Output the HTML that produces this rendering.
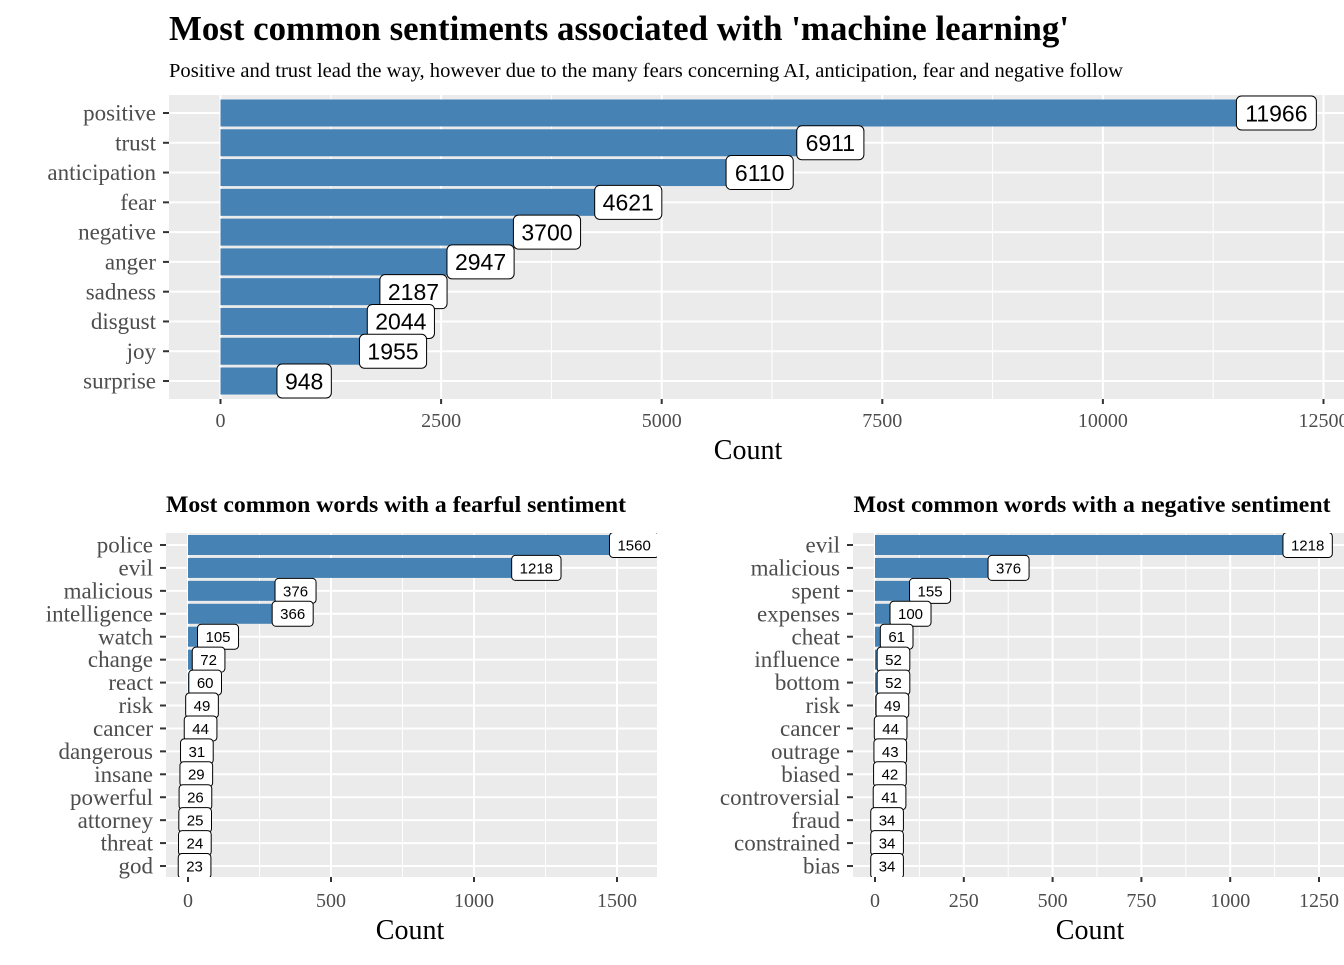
<!DOCTYPE html>
<html><head><meta charset="utf-8"><style>
body{margin:0;background:#fff;width:1344px;height:960px;overflow:hidden}
svg text{font-family:"Liberation Serif",serif}
</style></head><body>
<svg id="c" width="1344" height="960" xmlns="http://www.w3.org/2000/svg">
<text x="169" y="40" font-size="35" font-weight="bold" fill="#000" textLength="900" lengthAdjust="spacingAndGlyphs">Most common sentiments associated with 'machine learning'</text>
<text x="169" y="77" font-size="20.5" fill="#000" textLength="954" lengthAdjust="spacingAndGlyphs">Positive and trust lead the way, however due to the many fears concerning AI, anticipation, fear and negative follow</text>
<text x="396" y="512" font-size="23.5" font-weight="bold" text-anchor="middle" textLength="460" lengthAdjust="spacingAndGlyphs">Most common words with a fearful sentiment</text>
<text x="1092" y="512" font-size="23.5" font-weight="bold" text-anchor="middle" textLength="477" lengthAdjust="spacingAndGlyphs">Most common words with a negative sentiment</text>
</svg>
<script>
const topCats=["positive","trust","anticipation","fear","negative","anger","sadness","disgust","joy","surprise"];
const topVals=[11966,6911,6110,4621,3700,2947,2187,2044,1955,948];
const topTicks=[0,2500,5000,7500,10000,12500];
const fearCats=["police","evil","malicious","intelligence","watch","change","react","risk","cancer","dangerous","insane","powerful","attorney","threat","god"];
const fearVals=[1560,1218,376,366,105,72,60,49,44,31,29,26,25,24,23];
const fearTicks=[0,500,1000,1500];
const negCats=["evil","malicious","spent","expenses","cheat","influence","bottom","risk","cancer","outrage","biased","controversial","fraud","constrained","bias"];
const negVals=[1218,376,155,100,61,52,52,49,44,43,42,41,34,34,34];
const negTicks=[0,250,500,750,1000,1250];

const svg=document.getElementById('c');
const NS="http://www.w3.org/2000/svg";
function mk(tag,at,parent){const e=document.createElementNS(NS,tag);for(const k in at)e.setAttribute(k,at[k]);(parent||svg).appendChild(e);return e;}

function panel(o){
  const g=mk('g',{});
  
  
  const xs=v=>o.x0+v*o.k;
  const ys=i=>o.y0+i*o.dy;
  mk('rect',{x:o.px,y:o.py,width:o.pw,height:o.ph,fill:'#ebebeb'},g);
  const cp='clip'+o.name;
  const cl=mk('clipPath',{id:cp},g);mk('rect',{x:o.px,y:o.py,width:o.pw,height:o.ph},cl);
  const inner=mk('g',{'clip-path':'url(#'+cp+')'},g);
  for(let t=0;t<o.ticks.length;t++){
    const v=o.ticks[t];
    mk('line',{x1:xs(v),x2:xs(v),y1:o.py,y2:o.py+o.ph,stroke:'#fff','stroke-width':2},inner);
    if(t<o.ticks.length-1){const m=(v+o.ticks[t+1])/2;mk('line',{x1:xs(m),x2:xs(m),y1:o.py,y2:o.py+o.ph,stroke:'#fff','stroke-width':1},inner);}
    else{const m=v+(v-o.ticks[t-1])/2;mk('line',{x1:xs(m),x2:xs(m),y1:o.py,y2:o.py+o.ph,stroke:'#fff','stroke-width':1},inner);}
    const tl=mk('text',{x:xs(v),y:o.tickY,'font-size':o.tfs,fill:'#4d4d4d','text-anchor':'middle'},g);
    tl.textContent=v;
    
    
    mk('line',{x1:xs(v),x2:xs(v),y1:o.py+o.ph,y2:o.py+o.ph+5,stroke:'#333','stroke-width':2},g);
  }
  o.cats.forEach((c,i)=>{
    mk('line',{x1:o.px,x2:o.px+o.pw,y1:ys(i),y2:ys(i),stroke:'#fff','stroke-width':2},inner);
    mk('line',{x1:o.px-6,x2:o.px,y1:ys(i),y2:ys(i),stroke:'#333','stroke-width':2},g);
    const l=mk('text',{x:o.px-13,y:ys(i)+o.cfs*0.33,'font-size':o.cfs,fill:'#4d4d4d','text-anchor':'end'},g);
    l.textContent=c;
    
    
  });
  o.vals.forEach((v,i)=>{
    const b=mk('rect',{x:xs(0),y:ys(i)-o.bh/2,width:v*o.k,height:o.bh,fill:'#4682b4'},inner);
    
    
  });
  o.vals.forEach((v,i)=>{
    const s=String(v);
    const w=s.length*o.lfs*0.556+o.pad*2;
    const cx=xs(v);
    const lg=mk('g',{},inner);
    
    
    mk('rect',{x:cx-w/2,y:ys(i)-o.lh/2,width:w,height:o.lh,rx:o.lh*0.15,fill:'#fff',stroke:'#000','stroke-width':1},lg);
    const t=mk('text',{x:cx,y:ys(i)+o.lfs*0.36,'font-size':o.lfs,'text-anchor':'middle',fill:'#000'},lg);
    t.setAttribute('style','font-family:"Liberation Sans",sans-serif');
    t.textContent=s;
  });
  const at=mk('text',{x:o.titleX,y:o.titleY,'font-size':28,'text-anchor':'middle',fill:'#000'},g);
  at.textContent='Count';
  
  
}
panel({name:'top-panel',cats:topCats,vals:topVals,ticks:topTicks,px:169,py:95,pw:1175,ph:304,x0:220.5,k:220.6/2500,y0:113,dy:29.78,bh:27,tickY:427,tfs:20,cfs:23,lfs:23,lh:34,pad:8,titleX:748,titleY:459});
panel({name:'fear-panel',cats:fearCats,vals:fearVals,ticks:fearTicks,px:166,py:533,pw:491,ph:344,x0:188,k:429/1500,y0:545,dy:22.93,bh:20,tickY:907,tfs:20,cfs:23,lfs:15,lh:25,pad:8,titleX:410,titleY:939});
panel({name:'negative-panel',cats:negCats,vals:negVals,ticks:negTicks,px:853,py:533,pw:491,ph:344,x0:875,k:444/1250,y0:545,dy:22.93,bh:20,tickY:907,tfs:20,cfs:23,lfs:15,lh:25,pad:8,titleX:1090,titleY:939});
</script>
</body></html>
